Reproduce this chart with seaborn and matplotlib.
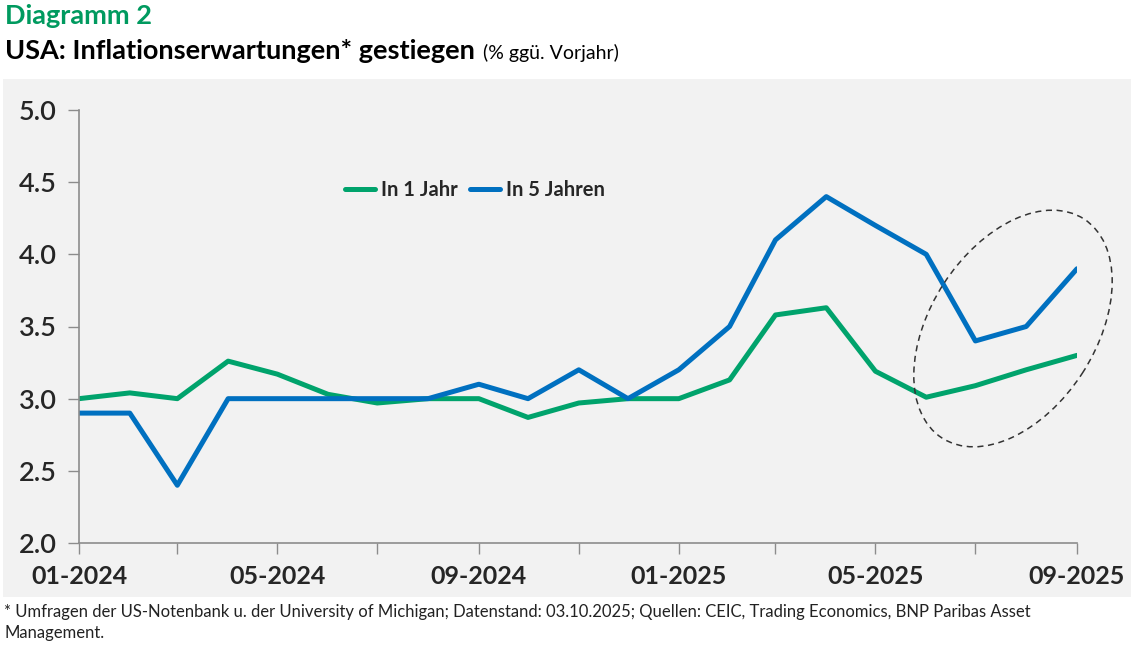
import matplotlib
matplotlib.use('Agg')
import matplotlib.pyplot as plt
import matplotlib.dates as mdates
from matplotlib.patches import Ellipse, Rectangle
import pandas as pd
import seaborn as sns

# monthly survey values, 01-2024 .. 09-2025
months = pd.date_range('2024-01-01', '2025-09-01', freq='MS')
in_1_jahr = [3.0, 3.04, 3.0, 3.26, 3.17, 3.03, 2.97, 3.0, 3.0, 2.87, 2.97, 3.0,
             3.0, 3.13, 3.58, 3.63, 3.19, 3.01, 3.09, 3.2, 3.3]
in_5_jahren = [2.9, 2.9, 2.4, 3.0, 3.0, 3.0, 3.0, 3.0, 3.1, 3.0, 3.2, 3.0,
               3.2, 3.5, 4.1, 4.4, 4.2, 4.0, 3.4, 3.5, 3.9]
series_names = ['In 1 Jahr', 'In 5 Jahren']

df = pd.DataFrame({'Monat': list(months) * 2,
                   'Wert': in_1_jahr + in_5_jahren,
                   'Reihe': [series_names[0]] * len(months) + [series_names[1]] * len(months)})

GREEN = '#00a36c'
BLUE = '#0070c0'
BG = '#f2f2f2'

sns.set_style('white')
plt.rcParams['font.family'] = ['Lato', 'DejaVu Sans']

fig = plt.figure(figsize=(11.31, 6.46), dpi=100)
fig.patch.set_facecolor('white')
fig.patches.append(Rectangle((3 / 1131, 49 / 646), 1128 / 1131, 518 / 646,
                             transform=fig.transFigure, facecolor=BG, edgecolor='none', zorder=-5))

ax = fig.add_axes([79 / 1131, 103 / 646, 998 / 1131, 433 / 646])
ax.set_facecolor(BG)

sns.lineplot(data=df, x='Monat', y='Wert', hue='Reihe', palette=[GREEN, BLUE],
             linewidth=3.6, ax=ax)

ax.set_xlim(months[0], months[-1])
ax.set_ylim(2.0, 5.0)
ax.set_yticks([2.0, 2.5, 3.0, 3.5, 4.0, 4.5, 5.0])
ax.yaxis.set_major_formatter(matplotlib.ticker.FormatStrFormatter('%.1f'))
ax.xaxis.set_major_locator(mdates.MonthLocator(bymonth=[1, 5, 9]))
ax.xaxis.set_minor_locator(mdates.MonthLocator(bymonth=[3, 7, 11]))
ax.xaxis.set_major_formatter(mdates.DateFormatter('%m-%Y'))
ax.set_xlabel('')
ax.set_ylabel('')

for s in ['top', 'right']:
    ax.spines[s].set_visible(False)
for s in ['left', 'bottom']:
    ax.spines[s].set_color('#8c8c8c')
    ax.spines[s].set_linewidth(1.2)

ax.tick_params(axis='both', which='both', direction='out', color='#8c8c8c', width=1,
               left=True, bottom=True)
ax.tick_params(axis='y', length=8, labelsize=19.5, pad=8)
ax.tick_params(axis='x', which='major', length=8, labelsize=18, pad=8)
ax.tick_params(axis='x', which='minor', length=8)
for lab in ax.get_xticklabels():
    lab.set_fontweight('bold')
for lab in ax.get_yticklabels():
    lab.set_fontweight('semibold')

handles, labels = ax.get_legend_handles_labels()
ax.legend(handles, labels, loc='center', bbox_to_anchor=(0.397, 0.815), ncol=2,
          frameon=False, handlelength=1.5, handletextpad=0.3, columnspacing=0.6,
          prop={'size': 14.5, 'weight': 'bold'})

# dashed ellipse around the latest months
fig.patches.append(Ellipse((10.13, 3.175), 2.61, 1.65, angle=57,
                           transform=fig.dpi_scale_trans, fill=False,
                           edgecolor='#333333', linestyle=(0, (4, 3)), linewidth=1.1, zorder=5))

fig.text(5 / 1131, 1 - 24 / 646, 'Diagramm 2', color='#009a5f', fontsize=19.5,
         fontweight='bold', va='baseline')
title = fig.text(5 / 1131, 1 - 59 / 646, 'USA: Inflationserwartungen* gestiegen', color='black',
                 fontsize=19.5, fontweight='bold', va='baseline')
fig.canvas.draw()
bb = title.get_window_extent()
fig.text((bb.x1 + 8) / 1131, 1 - 59 / 646, '(% ggü. Vorjahr)', color='black', fontsize=14,
         va='baseline')

fig.text(4 / 1131, 1 - 617 / 646,
         '* Umfragen der US-Notenbank u. der University of Michigan; Datenstand: 03.10.2025; '
         'Quellen: CEIC, Trading Economics, BNP Paribas Asset', fontsize=12, color='#222222',
         va='baseline')
fig.text(4 / 1131, 1 - 638 / 646, 'Management.', fontsize=12, color='#222222', va='baseline')

fig.savefig('out.png', dpi=100)
